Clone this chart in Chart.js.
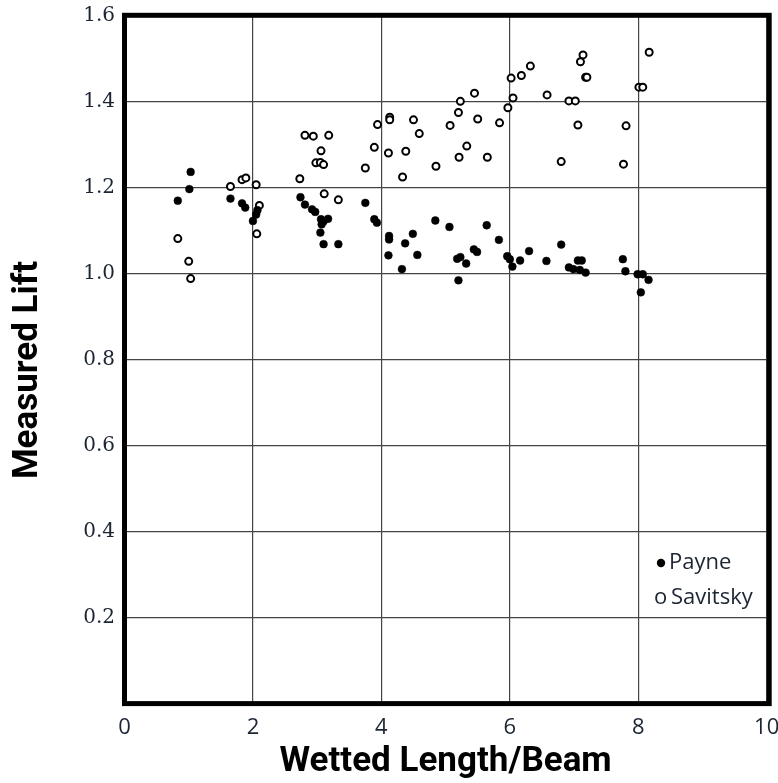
<!DOCTYPE html>
<html>
<head>
<meta charset="utf-8">
<script src="https://cdn.jsdelivr.net/npm/chart.js@4"></script>
<style>
  html, body { margin: 0; padding: 0; background: #fff; }
  canvas { display: block; }
</style>
</head>
<body>
<canvas id="liftChart" width="778" height="783"></canvas>
<script>
const xTicks = [0, 2, 4, 6, 8, 10];
const yTicks = [0.2, 0.4, 0.6, 0.8, 1.0, 1.2, 1.4, 1.6];
const seriesNames = ['Payne', 'Savitsky'];

const payneX = [0.83, 1.01, 1.03, 1.65, 1.83, 1.88, 2.07, 2.05, 2.00,
    2.74, 2.81, 2.92, 2.97, 3.06, 3.10, 3.17, 3.07, 3.05, 3.10, 3.33,
    3.75, 3.89, 3.93, 4.12, 4.12, 4.11, 4.32, 4.37, 4.49, 4.56, 4.84, 5.06, 5.18, 5.23, 5.20, 5.32, 5.44, 5.49, 5.64, 5.83,
    5.96, 6.00, 6.04, 6.16, 6.30, 6.57, 6.80, 6.92, 6.99, 7.06, 7.12, 7.09, 7.18, 7.76, 7.80, 7.99, 8.07, 8.16, 8.04];
const payneY = [1.169, 1.196, 1.236, 1.174, 1.163, 1.153, 1.147, 1.137, 1.122,
    1.177, 1.160, 1.149, 1.143, 1.126, 1.121, 1.127, 1.114, 1.095, 1.068, 1.068,
    1.164, 1.126, 1.118, 1.087, 1.079, 1.042, 1.010, 1.070, 1.092, 1.043, 1.123, 1.108, 1.034, 1.038, 0.984, 1.023, 1.056, 1.050, 1.112, 1.078,
    1.040, 1.033, 1.016, 1.030, 1.052, 1.029, 1.067, 1.014, 1.010, 1.030, 1.030, 1.008, 1.002, 1.033, 1.005, 0.998, 0.998, 0.985, 0.956];

const savitskyX = [0.83, 1.00, 1.03, 1.65, 1.83, 1.89, 2.05, 2.10, 2.06,
    2.73, 2.81, 2.94, 3.18, 3.06, 2.98, 3.05, 3.10, 3.11, 3.33,
    3.75, 3.89, 3.94, 4.13, 4.13, 4.11, 4.33, 4.38, 4.50, 4.59, 4.85, 5.07, 5.20, 5.23, 5.21, 5.33, 5.45, 5.50, 5.65, 5.84, 5.97,
    6.02, 6.18, 6.32, 6.05, 6.58, 6.92, 7.02, 6.80, 7.06, 7.14, 7.10, 7.18, 7.20, 7.81, 7.77, 8.01, 8.07, 8.17];
const savitskyY = [1.081, 1.028, 0.988, 1.202, 1.218, 1.222, 1.206, 1.158, 1.092,
    1.220, 1.321, 1.319, 1.321, 1.285, 1.257, 1.258, 1.253, 1.185, 1.171,
    1.245, 1.293, 1.346, 1.363, 1.357, 1.280, 1.224, 1.284, 1.357, 1.325, 1.249, 1.344, 1.374, 1.400, 1.270, 1.296, 1.419, 1.359, 1.270, 1.350, 1.385,
    1.454, 1.460, 1.482, 1.408, 1.415, 1.401, 1.401, 1.260, 1.345, 1.508, 1.492, 1.456, 1.456, 1.343, 1.254, 1.433, 1.433, 1.514];

function toPoints(xs, ys) {
    return xs.map((x, i) => ({ x: x, y: ys[i] }));
}

const tickColor = '#1c2533';

// thick black frame, rotated y title and the little legend in the corner
const decorations = {
    id: 'decorations',
    afterDraw(chart) {
        const ctx = chart.ctx;
        const a = chart.chartArea;
        ctx.save();
        ctx.strokeStyle = '#000';
        ctx.lineWidth = 5;
        ctx.lineJoin = 'miter';
        ctx.strokeRect(a.left, a.top, a.right - a.left + 2.5, a.bottom - a.top);

        ctx.fillStyle = '#000';
        ctx.font = 'bold 35px Roboto';
        ctx.textAlign = 'center';
        ctx.textBaseline = 'middle';
        ctx.translate(28, 370);
        ctx.rotate(-Math.PI / 2);
        ctx.fillText('Measured Lift', 0, 0);
        ctx.restore();

        ctx.save();
        ctx.font = '22px "Open Sans"';
        ctx.textBaseline = 'alphabetic';
        ctx.textAlign = 'left';
        ctx.beginPath();
        ctx.arc(661, 563, 4.2, 0, Math.PI * 2);
        ctx.fillStyle = '#000';
        ctx.fill();
        ctx.fillStyle = tickColor;
        ctx.fillText(seriesNames[0], 669, 569);
        ctx.fillText('o', 654, 604);
        ctx.fillText(seriesNames[1], 671, 604);
        ctx.restore();
    }
};

const config = {
    type: 'scatter',
    data: {
        datasets: [{
            label: seriesNames[0],
            data: toPoints(payneX, payneY),
            pointRadius: 3.9,
            pointBackgroundColor: '#000',
            pointBorderColor: '#000',
            pointBorderWidth: 0.5
        }, {
            label: seriesNames[1],
            data: toPoints(savitskyX, savitskyY),
            pointRadius: 3.5,
            pointBackgroundColor: '#fff',
            pointBorderColor: '#000',
            pointBorderWidth: 2
        }]
    },
    options: {
        responsive: false,
        animation: false,
        layout: {
            padding: { left: 0, right: 11.3, top: 15.3, bottom: 0 }
        },
        plugins: {
            legend: { display: false },
            tooltip: { enabled: false }
        },
        scales: {
            x: {
                type: 'linear',
                min: 0,
                max: 10,
                afterBuildTicks: (scale) => { scale.ticks = xTicks.map(v => ({ value: v })); },
                afterFit: (scale) => {
                    scale.height = 783 - 703.6;
                    scale.paddingLeft = 0;
                    scale.paddingRight = 0;
                },
                border: { display: false },
                grid: { color: '#444', lineWidth: 1.2, drawTicks: false },
                ticks: {
                    color: tickColor,
                    font: { family: 'Open Sans', size: 22 },
                    padding: 11,
                    maxRotation: 0,
                    callback: (v) => String(v)
                },
                title: {
                    display: true,
                    text: 'Wetted Length/Beam',
                    color: '#000',
                    font: { family: 'Roboto', size: 35, weight: 'bold' },
                    padding: { top: 0, bottom: 0 }
                }
            },
            y: {
                type: 'linear',
                min: 0,
                max: 1.6,
                afterBuildTicks: (scale) => { scale.ticks = yTicks.map(v => ({ value: v })); },
                afterFit: (scale) => {
                    scale.width = 124.5;
                    scale.paddingTop = 0;
                    scale.paddingBottom = 0;
                },
                border: { display: false },
                grid: { color: '#444', lineWidth: 1.2, drawTicks: false },
                ticks: {
                    color: tickColor,
                    font: { family: 'DejaVu Serif', size: 20 },
                    padding: 9.5,
                    callback: (v) => v.toFixed(1)
                }
            }
        }
    },
    plugins: [decorations]
};

new Chart(document.getElementById('liftChart').getContext('2d'), config);
</script>
</body>
</html>
